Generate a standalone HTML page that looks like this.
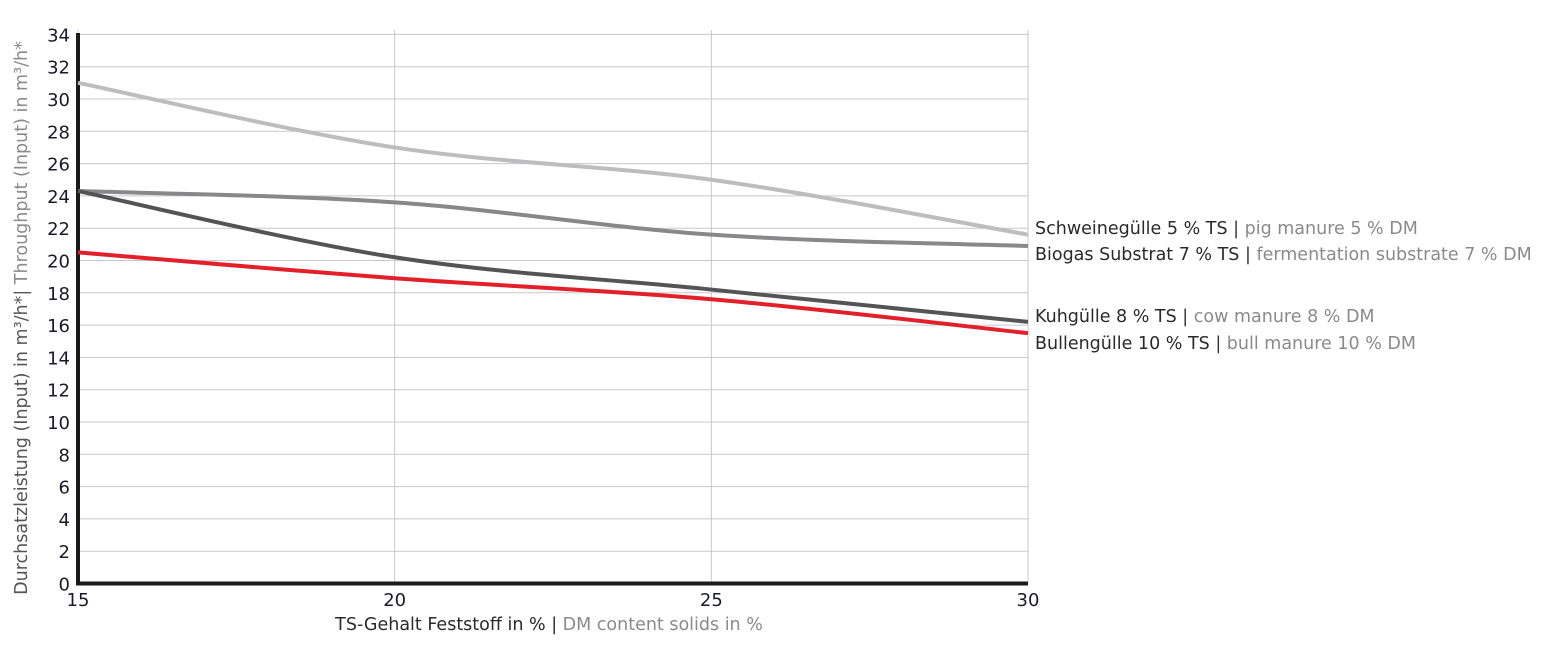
<!DOCTYPE html>
<html><head><meta charset="utf-8"><style>
body{margin:0;background:#fff;font-family:"Liberation Sans",sans-serif;}
svg text{font-family:"DejaVu Sans","Liberation Sans",sans-serif;}
</style></head><body>
<svg id="c" width="1556" height="644"></svg>
<script>
const xTicks=[15,20,25,30];
const yTicks=[0,2,4,6,8,10,12,14,16,18,20,22,24,26,28,30,32,34];
const seriesNames=["Schweinegülle 5 % TS","Biogas Substrat 7 % TS","Kuhgülle 8 % TS","Bullengülle 10 % TS"];
const seriesEn=["pig manure 5 % DM","fermentation substrate 7 % DM","cow manure 8 % DM","bull manure 10 % DM"];
const schweine=[31,27,25,21.6];
const biogas=[24.3,23.6,21.6,20.9];
const kuh=[24.3,20.2,18.2,16.2];
const bullen=[20.5,18.9,17.6,15.5];
const colors=["#bdbdbf","#88888a","#545456","#e3202a"];
const labelY=[228,254,316,343];
const NS="http://www.w3.org/2000/svg";
const svg=document.getElementById('c');
const X=v=>78+(v-15)/15*950;
const Y=v=>583.5-v*16.15;
function mk(t,a,p){const e=document.createElementNS(NS,t);for(const k in a)e.setAttribute(k,a[k]);(p||svg).appendChild(e);return e;}
for(const t of yTicks){
 const g=mk('line',{x1:78,x2:1028,y1:Y(t),y2:Y(t),stroke:'#c8c8c8','stroke-width':1});
 
 
 const l=mk('text',{x:70,y:Y(t)+7,'text-anchor':'end','font-size':18,fill:'#1a1a2a'});l.textContent=t;
 
 
}
for(const t of xTicks){
 const g=mk('line',{x1:X(t),x2:X(t),y1:30,y2:583,stroke:'#c8c8c8','stroke-width':1});
 
 
 const l=mk('text',{x:X(t),y:606,'text-anchor':'middle','font-size':18,fill:'#1a1a2a'});l.textContent=t;
 
 
}
const ax=mk('path',{d:`M78,33 V583.5 H1028`,stroke:'#1a1a1a','stroke-width':4,fill:'none'});


function curve(vals){
 const p=vals.map((v,i)=>[X(xTicks[i]),Y(v)]);
 let d=`M${p[0][0]},${p[0][1]}`;
 for(let i=0;i<p.length-1;i++){
  const p0=p[Math.max(0,i-1)],p1=p[i],p2=p[i+1],p3=p[Math.min(p.length-1,i+2)];
  const c1=[p1[0]+(p2[0]-p0[0])/6,p1[1]+(p2[1]-p0[1])/6];
  const c2=[p2[0]-(p3[0]-p1[0])/6,p2[1]-(p3[1]-p1[1])/6];
  d+=` C${c1[0]},${c1[1]} ${c2[0]},${c2[1]} ${p2[0]},${p2[1]}`;
 }
 return d;
}
const all=[schweine,biogas,kuh,bullen];
const names=['line-schweineguelle','line-biogas-substrat','line-kuhguelle','line-bullenguelle'];
all.forEach((s,i)=>{
 const l=mk('path',{d:curve(s),stroke:colors[i],'stroke-width':4,fill:'none'});
 
 
 const t=mk('text',{x:1035,y:labelY[i]+6,'font-size':17.5,fill:'#2a2a2a'});
 
 
 const a=mk('tspan',{},t);a.textContent=seriesNames[i]+' ';
 const b=mk('tspan',{fill:'#333'},t);b.textContent='| ';
 const c=mk('tspan',{fill:'#8a8a8a'},t);c.textContent=seriesEn[i];
});
const xt=mk('text',{x:549,y:630,'text-anchor':'middle','font-size':17.5,fill:'#2a2a2a'});


mk('tspan',{},xt).textContent='TS-Gehalt Feststoff in % | ';
mk('tspan',{fill:'#8a8a8a'},xt).textContent='DM content solids in %';
const yt=mk('text',{x:0,y:0,'text-anchor':'middle','font-size':17.5,fill:'#555',transform:'translate(27,318) rotate(-90)'});


mk('tspan',{},yt).textContent='Durchsatzleistung (Input) in m³/h*| ';
mk('tspan',{fill:'#8a8a8a'},yt).textContent='Throughput (Input) in m³/h*';
</script>
</body></html>
